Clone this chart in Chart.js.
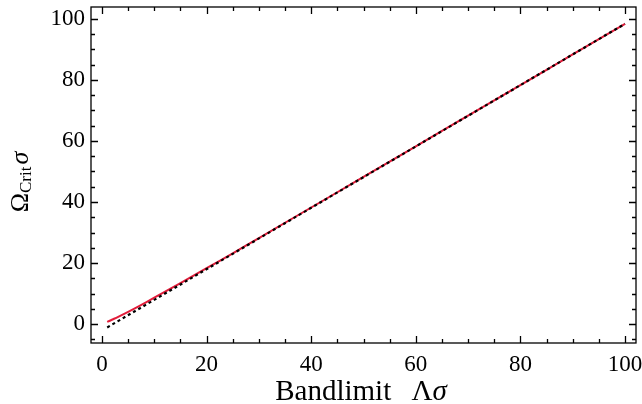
<!DOCTYPE html>
<html lang="en">
<head>
  <meta charset="UTF-8">
  <title>Critical frequency vs bandlimit</title>
  <script src="https://cdn.jsdelivr.net/npm/chart.js"></script>
  <style>
    html, body { margin: 0; padding: 0; background: #fff; }
    #wrap { width: 642px; height: 404px; }
  </style>
</head>
<body>
  <div id="wrap"><canvas id="chart" width="642" height="404"></canvas></div>

  <script>
    // values
    const bandlimit = [1, 2, 3, 5, 7, 10, 15, 20, 25, 30, 40, 50, 60, 70, 80, 90, 100];
    const omegaCrit = [0.7, 1.5, 2.3, 4.0, 5.8, 8.65, 13.4, 18.3, 23.2, 28.2, 38.2, 48.2, 58.25, 68.3, 78.3, 88.35, 98.4];
    const asymptoteX = [1, 100];
    const asymptoteY = [-1.1, 98.4];
    const xTicks = [0, 20, 40, 60, 80, 100];
    const yTicks = [0, 20, 40, 60, 80, 100];
    const xMinor = [5, 10, 15, 25, 30, 35, 45, 50, 55, 65, 70, 75, 85, 90, 95];
    const yMinor = [-5, 5, 10, 15, 25, 30, 35, 45, 50, 55, 65, 70, 75, 85, 90, 95];

    const serif = '"Liberation Serif", "DejaVu Serif", serif';

    // frame with inward ticks on all four sides, like the matplotlib style
    const frameTicks = {
      id: 'frameTicks',
      afterDraw(chart) {
        const ctx = chart.ctx;
        const a = chart.chartArea;
        const xs = chart.scales.x, ys = chart.scales.y;
        ctx.save();
        ctx.strokeStyle = '#000';
        ctx.lineWidth = 1.3;
        ctx.strokeRect(a.left, a.top, a.right - a.left, a.bottom - a.top);
        ctx.beginPath();
        const tickX = (vals, len) => vals.forEach(v => {
          const p = Math.round(xs.getPixelForValue(v)) + 0.5;
          ctx.moveTo(p, a.bottom); ctx.lineTo(p, a.bottom - len);
          ctx.moveTo(p, a.top); ctx.lineTo(p, a.top + len);
        });
        const tickY = (vals, len) => vals.forEach(v => {
          const p = Math.round(ys.getPixelForValue(v)) + 0.5;
          ctx.moveTo(a.left, p); ctx.lineTo(a.left + len, p);
          ctx.moveTo(a.right, p); ctx.lineTo(a.right - len, p);
        });
        tickX(xTicks, 7); tickX(xMinor, 4);
        tickY(yTicks, 7); tickY(yMinor, 4);
        ctx.stroke();

        // axis titles
        ctx.fillStyle = '#000';
        ctx.textBaseline = 'alphabetic';
        // x: Bandlimit  Λσ
        const xParts = [['Bandlimit', '29px ' + serif], ['\u2002\u2009\u039b', '29px ' + serif], ['\u03c3', 'italic 29px ' + serif]];
        let w = 0;
        xParts.forEach(p => { ctx.font = p[1]; w += ctx.measureText(p[0]).width; });
        let cx = 361 - w / 2;
        xParts.forEach(p => { ctx.font = p[1]; ctx.fillText(p[0], cx, 400); cx += ctx.measureText(p[0]).width; });

        // y: Ω_Crit σ, rotated
        ctx.translate(28, 182);
        ctx.rotate(-Math.PI / 2);
        const yParts = [['\u03a9', '26px ' + serif, 0], ['Crit', '17px ' + serif, 3], ['\u03c3', 'italic 26px ' + serif, 0]];
        w = 0;
        yParts.forEach(p => { ctx.font = p[1]; w += ctx.measureText(p[0]).width; });
        w += 2;
        let cy = -w / 2;
        yParts.forEach((p, i) => {
          ctx.font = p[1];
          ctx.fillText(p[0], cy, p[2]);
          cy += ctx.measureText(p[0]).width + (i === 1 ? 2 : 0);
        });
        ctx.restore();
      }
    };

    new Chart(document.getElementById('chart'), {
      type: 'line',
      data: {
        datasets: [
          {
            label: 'asymptote',
            data: asymptoteX.map((x, i) => ({ x: x, y: asymptoteY[i] })),
            borderColor: '#000',
            borderWidth: 2.2,
            borderDash: [3, 3],
            pointRadius: 0,
            fill: false
          },
          {
            label: 'Omega crit',
            data: bandlimit.map((x, i) => ({ x: x, y: omegaCrit[i] })),
            borderColor: 'rgb(226, 28, 58)',
            borderWidth: 2,
            pointRadius: 0,
            tension: 0.3,
            fill: false
          }
        ]
      },
      options: {
        responsive: false,
        animation: false,
        layout: { padding: { left: 0, right: 6, top: 7, bottom: 0 } },
        plugins: {
          legend: { display: false },
          tooltip: { enabled: false }
        },
        scales: {
          x: {
            type: 'linear',
            min: -2.1,
            max: 102.1,
            afterBuildTicks: s => { s.ticks = xTicks.map(v => ({ value: v })); },
            afterFit: s => { s.height = 61; s.paddingLeft = 0; s.paddingRight = 0; },
            grid: { display: false, drawTicks: false },
            border: { display: false },
            ticks: {
              padding: 8,
              color: '#000',
              maxRotation: 0,
              font: { family: serif, size: 23 },
              callback: v => String(v)
            }
          },
          y: {
            type: 'linear',
            min: -6.2,
            max: 103.9,
            afterBuildTicks: s => { s.ticks = yTicks.map(v => ({ value: v })); },
            afterFit: s => { s.width = 91; s.paddingTop = 0; s.paddingBottom = 0; },
            grid: { display: false, drawTicks: false },
            border: { display: false },
            ticks: {
              padding: 6,
              color: '#000',
              font: { family: serif, size: 23 },
              callback: v => String(v)
            }
          }
        }
      },
      plugins: [frameTicks]
    });
  </script>
</body>
</html>
